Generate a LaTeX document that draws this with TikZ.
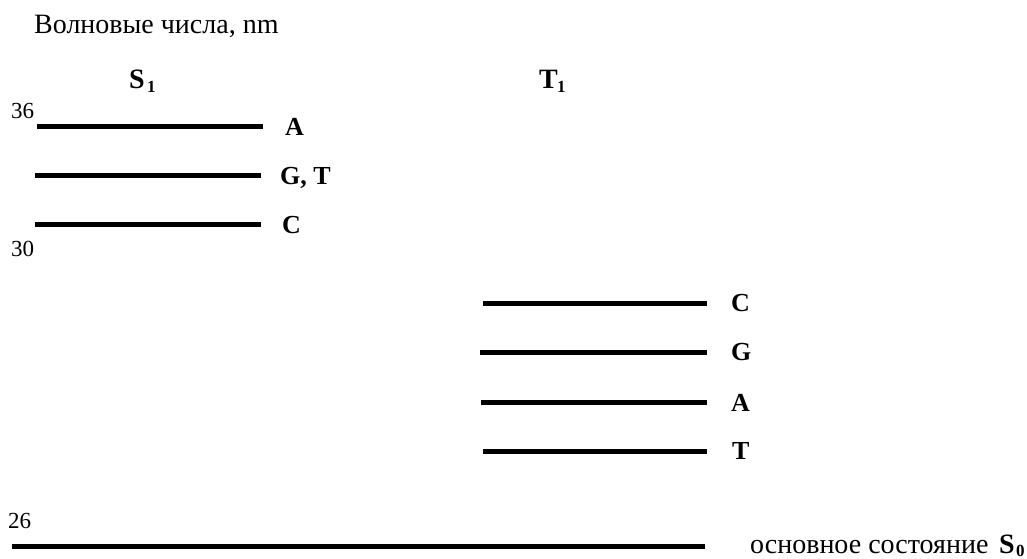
\documentclass[tikz,border=0pt]{standalone}
\usepackage{fontspec}
\setmainfont{Liberation Serif}
\begin{document}
\begin{tikzpicture}[x=1pt,y=-1pt,
  level/.style={line width=5pt},
  lab/.style={font=\fontsize{26}{30}\selectfont\bfseries, anchor=base west, inner sep=0pt},
  num/.style={font=\fontsize{23}{26}\selectfont, anchor=base west, inner sep=0pt},
  txt/.style={font=\fontsize{28}{30}\selectfont, anchor=base west, inner sep=0pt},
  big/.style={font=\fontsize{28}{30}\selectfont\bfseries, anchor=base west, inner sep=0pt},
  sub/.style={font=\fontsize{17}{20}\selectfont\bfseries, anchor=base west, inner sep=0pt}]
\useasboundingbox[fill=white] (0,0) rectangle (1027,558);
% title
\node[txt] (title) at (34,33) {Волновые числа, nm};
\node[big] (s1) at (129,88) {S};
\node[sub] (s1i) at (147,92) {1};
\node[big] (t1) at (539,88) {T};
\node[sub] (t1i) at (557,92) {1};
% numbers
\node[num] (n36) at (11,118) {36};
\node[num] (n30) at (11,256) {30};
\node[num] (n26) at (8,528) {26};
% S1 levels
\coordinate (sa1) at (37,126); \coordinate (sa2) at (263,126);
\coordinate (sg1) at (35,175); \coordinate (sg2) at (261,175);
\coordinate (sc1) at (35,224); \coordinate (sc2) at (261,224);
\draw[level] (sa1) -- (sa2);
\draw[level] (sg1) -- (sg2);
\draw[level] (sc1) -- (sc2);
\node[lab] (la) at (285,135) {A};
\node[lab] (lgt) at (280,184) {G, T};
\node[lab] (lc) at (282,233) {C};
% T1 levels
\coordinate (tc1) at (483,303); \coordinate (tc2) at (707,303);
\coordinate (tg1) at (480,352); \coordinate (tg2) at (707,352);
\coordinate (ta1) at (481,402); \coordinate (ta2) at (707,402);
\coordinate (tt1) at (483,451); \coordinate (tt2) at (707,451);
\draw[level] (tc1) -- (tc2);
\draw[level] (tg1) -- (tg2);
\draw[level] (ta1) -- (ta2);
\draw[level] (tt1) -- (tt2);
\node[lab] (ltc) at (731,311) {C};
\node[lab] (ltg) at (731,360) {G};
\node[lab] (lta) at (731,411) {A};
\node[lab] (ltt) at (732,459) {T};
% ground state
\coordinate (s01) at (12,546); \coordinate (s02) at (705,546);
\draw[level] (s01) -- (s02);
\node[txt] (gs) at (750,553) {основное состояние};
\node[big] (s0) at (999,553) {S};
\node[sub] (s0i) at (1016,556) {0};
\end{tikzpicture}
\end{document}
